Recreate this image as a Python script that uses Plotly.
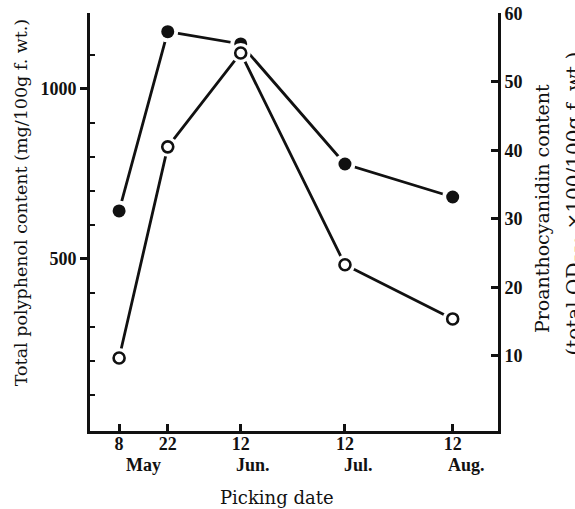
import plotly.graph_objects as go

# ---- data ----
dates = ["1990-05-08", "1990-05-22", "1990-06-12", "1990-07-12", "1990-08-12"]
day_labels = ["8", "22", "12", "12", "12"]
month_labels = ["May", "Jun.", "Jul.", "Aug."]
month_label_dates = ["1990-05-15", "1990-06-15 12:00", "1990-07-16", "1990-08-16"]
polyphenol = [641, 1168, 1132, 779, 682]          # mg/100g f. wt. (left axis)
proanthocyanidin = [9.7, 40.5, 54.2, 23.3, 15.4]  # total OD550 x100/100g f. wt. (right axis)
left_ticks = [500, 1000]
left_minor_ticks = [100, 200, 300, 400, 600, 700, 800, 900, 1100]
right_ticks = [10, 20, 30, 40, 50, 60]

TITLE_FONT = "DejaVu Serif"
TICK_FONT = "Liberation Serif"
BLACK = "#111111"

fig = go.Figure()

# connecting lines
fig.add_trace(go.Scatter(x=dates, y=polyphenol, mode="lines",
                         line=dict(color=BLACK, width=2.8), yaxis="y", hoverinfo="skip"))
fig.add_trace(go.Scatter(x=dates, y=proanthocyanidin, mode="lines",
                         line=dict(color=BLACK, width=2.8), yaxis="y2", hoverinfo="skip"))
# white halos to create gaps between lines and markers
fig.add_trace(go.Scatter(x=dates, y=polyphenol, mode="markers",
                         marker=dict(color="white", size=21, line=dict(width=0)), yaxis="y",
                         hoverinfo="skip"))
fig.add_trace(go.Scatter(x=dates, y=proanthocyanidin, mode="markers",
                         marker=dict(color="white", size=20, line=dict(width=0)), yaxis="y2",
                         hoverinfo="skip"))
# markers
fig.add_trace(go.Scatter(x=dates, y=polyphenol, mode="markers", name="Total polyphenol",
                         marker=dict(color=BLACK, size=13, line=dict(width=0)), yaxis="y"))
fig.add_trace(go.Scatter(x=dates, y=proanthocyanidin, mode="markers", name="Proanthocyanidin",
                         marker=dict(color="white", size=11, line=dict(color=BLACK, width=2.6)),
                         yaxis="y2"))

tickfont = dict(family=TICK_FONT, size=18, color=BLACK, weight="bold")

annotations = []
for lab, d in zip(month_labels, month_label_dates):
    annotations.append(dict(x=d, y=-0.081, xref="x", yref="paper", text=lab, showarrow=False,
                            font=tickfont, xanchor="center", yanchor="middle"))
annotations.append(dict(x=-0.169, y=0.545, xref="paper", yref="paper",
                        text="Total polyphenol content (mg/100g f. wt.)", textangle=-90,
                        showarrow=False, font=dict(family=TITLE_FONT, size=17.5, color=BLACK),
                        xanchor="center", yanchor="middle"))
annotations.append(dict(x=1.108, y=0.531, xref="paper", yref="paper",
                        text="Proanthocyanidin content", textangle=-90,
                        showarrow=False, font=dict(family=TITLE_FONT, size=19, color=BLACK),
                        xanchor="center", yanchor="middle"))
annotations.append(dict(x=1.19, y=0.543, xref="paper", yref="paper",
                        text="(total OD<sub>550</sub> ×100/100g f. wt.)", textangle=-90,
                        showarrow=False, font=dict(family=TITLE_FONT, size=20, color=BLACK),
                        xanchor="center", yanchor="middle"))
annotations.append(dict(x=0.459, y=-0.158, xref="paper", yref="paper",
                        text="Picking date", showarrow=False,
                        font=dict(family=TITLE_FONT, size=18, color=BLACK),
                        xanchor="center", yanchor="middle"))

fig.update_layout(
    width=575, height=509,
    margin=dict(l=90, r=77, t=13, b=78),
    paper_bgcolor="white", plot_bgcolor="white",
    showlegend=False,
    font=dict(family=TICK_FONT, size=18, color=BLACK),
    xaxis=dict(type="date", range=["1990-04-29 15:00", "1990-08-25 01:00"],
               tickvals=dates, ticktext=day_labels, automargin=False,
               ticks="inside", ticklen=7, tickwidth=2.5, tickcolor=BLACK,
               ticklabelstandoff=-5,
               showline=True, linewidth=2.6, linecolor=BLACK,
               showgrid=False, zeroline=False, tickfont=tickfont),
    yaxis=dict(range=[-6, 1223], tickvals=left_ticks, automargin=False,
               ticks="outside", ticklen=7, tickwidth=2.5, tickcolor=BLACK,
               minor=dict(tickmode="array", tickvals=left_minor_ticks, ticks="inside",
                          ticklen=5, tickwidth=2, tickcolor=BLACK),
               showline=True, linewidth=2.6, linecolor=BLACK,
               showgrid=False, zeroline=False, tickfont=tickfont),
    yaxis2=dict(range=[-0.95, 60.03], tickvals=right_ticks, overlaying="y", side="right",
                automargin=False, ticklabeloverflow="allow",
                ticks="inside", ticklen=7, tickwidth=2.5, tickcolor=BLACK,
                showline=True, linewidth=2.6, linecolor=BLACK,
                showgrid=False, zeroline=False, tickfont=tickfont),
    annotations=annotations,
)

# remove the browser's default 8px page margin so the figure sits at the window origin
fig.write_html("out.html", config={"displayModeBar": False},
               post_script="document.body.style.margin='0';document.body.style.overflow='hidden';")
